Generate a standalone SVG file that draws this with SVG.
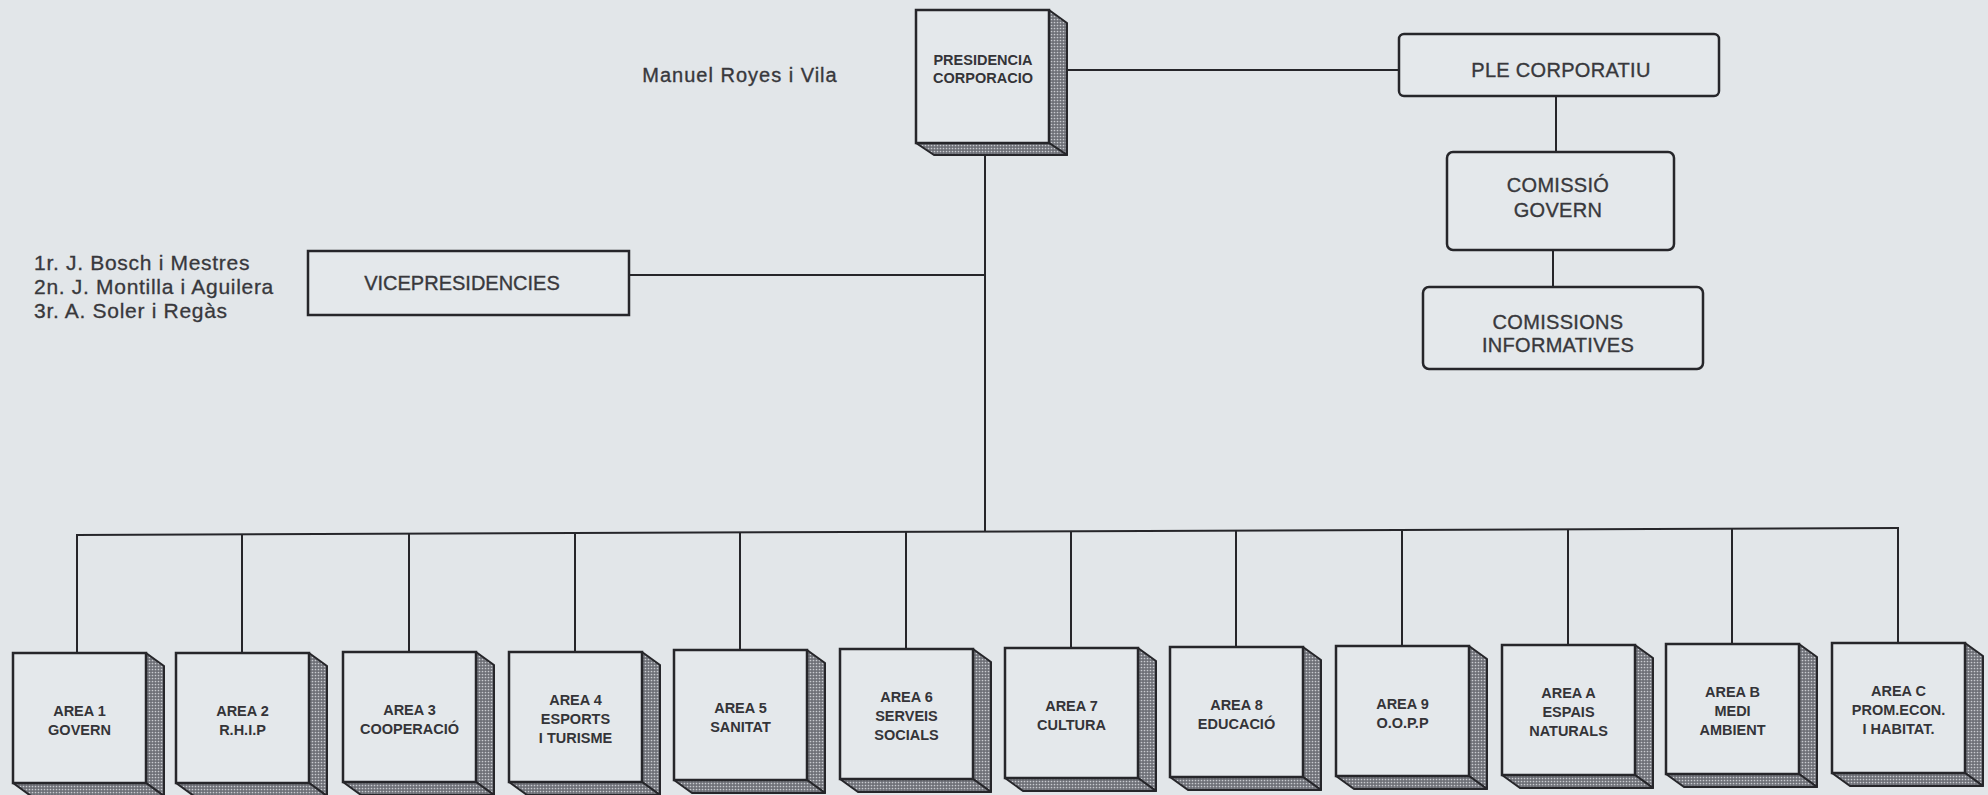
<svg xmlns="http://www.w3.org/2000/svg" xmlns:xlink="http://www.w3.org/1999/xlink" width="1988" height="795" viewBox="0 0 1988 795">
<style>
  .bg{fill:#e2e6e9}
  .ln{stroke:#26262a;stroke-width:2;fill:none}
  .box{fill:#e4e8eb;stroke:#26262a;stroke-width:2.5}
  .face{fill:url(#dots);stroke:#26262a;stroke-width:2;stroke-linejoin:round}
  .front{fill:#e4e8eb;stroke:#26262a;stroke-width:2.5}
  .t{font-family:"Liberation Sans",Arial,Helvetica,sans-serif;fill:#38383c;stroke:#38383c;stroke-width:0.35;font-size:20px;letter-spacing:0.3px;text-anchor:middle}
  .n{font-family:"Liberation Sans",Arial,Helvetica,sans-serif;fill:#38383c;stroke:#38383c;stroke-width:0.3;font-size:21px;letter-spacing:0.7px}
  .b{font-family:"Liberation Sans",Arial,Helvetica,sans-serif;fill:#343438;font-size:14.5px;font-weight:bold;text-anchor:middle}
</style>
<defs>
  <pattern id="dots" width="3" height="3" patternUnits="userSpaceOnUse">
    <rect width="3" height="3" fill="#6e7077"/>
    <circle cx="1.5" cy="1.5" r="0.85" fill="#c9cbd0"/>
  </pattern>
  <g id="cube">
    <polygon class="face" points="133,0 151,13 151,143 133,130"/>
    <polygon class="face" points="0,130 133,130 151,143 18,143"/>
    <rect class="front" x="0" y="0" width="133" height="130"/>
  </g>
</defs>
<rect class="bg" x="0" y="0" width="1988" height="795"/>

<g id="connectors">
  <line class="ln" x1="1067" y1="70" x2="1399" y2="70"/>
  <line class="ln" x1="985" y1="155" x2="985" y2="532"/>
  <line class="ln" x1="629" y1="275" x2="985" y2="275"/>
  <line class="ln" x1="1556" y1="96" x2="1556" y2="152"/>
  <line class="ln" x1="1553" y1="250" x2="1553" y2="287"/>
  <line class="ln" x1="76" y1="535" x2="1899" y2="528"/>
  <line class="ln" x1="77" y1="535" x2="77" y2="653"/>
  <line class="ln" x1="242" y1="534.4" x2="242" y2="653"/>
  <line class="ln" x1="409" y1="533.7" x2="409" y2="652"/>
  <line class="ln" x1="575" y1="533.1" x2="575" y2="652"/>
  <line class="ln" x1="740" y1="532.5" x2="740" y2="650"/>
  <line class="ln" x1="906" y1="531.8" x2="906" y2="649"/>
  <line class="ln" x1="1071" y1="531.2" x2="1071" y2="648"/>
  <line class="ln" x1="1236" y1="530.5" x2="1236" y2="647"/>
  <line class="ln" x1="1402" y1="529.9" x2="1402" y2="646"/>
  <line class="ln" x1="1568" y1="529.3" x2="1568" y2="645"/>
  <line class="ln" x1="1732" y1="528.6" x2="1732" y2="644"/>
  <line class="ln" x1="1898" y1="528" x2="1898" y2="643"/>
</g>

<g id="presidencia">
  <polygon class="face" points="1049,10 1067,23 1067,155 1049,143"/>
  <polygon class="face" points="916,143 1049,143 1067,155 934,155"/>
  <rect class="front" x="916" y="10" width="133" height="133"/>
  <text class="b" x="983" y="65">PRESIDENCIA</text>
  <text class="b" x="983" y="83">CORPORACIO</text>
</g>

<g id="manuel">
  <text class="t" x="740" y="82" style="letter-spacing:1px">Manuel Royes i Vila</text>
</g>

<g id="ple">
  <rect class="box" x="1399" y="34" width="320" height="62" rx="5"/>
  <text class="t" x="1561" y="77">PLE CORPORATIU</text>
</g>

<g id="comissio">
  <rect class="box" x="1447" y="152" width="227" height="98" rx="6"/>
  <text class="t" x="1558" y="192">COMISSIÓ</text>
  <text class="t" x="1558" y="217">GOVERN</text>
</g>

<g id="comissions">
  <rect class="box" x="1423" y="287" width="280" height="82" rx="6"/>
  <text class="t" x="1558" y="329">COMISSIONS</text>
  <text class="t" x="1558" y="352">INFORMATIVES</text>
</g>

<g id="vicepresidencies">
  <rect class="box" x="308" y="251" width="321" height="64"/>
  <text class="t" x="462" y="290" style="letter-spacing:0">VICEPRESIDENCIES</text>
  <text class="n" x="34" y="270">1r. J. Bosch i Mestres</text>
  <text class="n" x="34" y="294">2n. J. Montilla i Aguilera</text>
  <text class="n" x="34" y="318">3r. A. Soler i Regàs</text>
</g>

<g id="area1" transform="translate(13,653)">
  <use xlink:href="#cube"/>
  <text class="b" x="66.5" y="63">AREA 1</text>
  <text class="b" x="66.5" y="82">GOVERN</text>
</g>
<g id="area2" transform="translate(176,653)">
  <use xlink:href="#cube"/>
  <text class="b" x="66.5" y="63">AREA 2</text>
  <text class="b" x="66.5" y="82">R.H.I.P</text>
</g>
<g id="area3" transform="translate(343,652)">
  <use xlink:href="#cube"/>
  <text class="b" x="66.5" y="63">AREA 3</text>
  <text class="b" x="66.5" y="82">COOPERACIÓ</text>
</g>
<g id="area4" transform="translate(509,652)">
  <use xlink:href="#cube"/>
  <text class="b" x="66.5" y="53">AREA 4</text>
  <text class="b" x="66.5" y="72">ESPORTS</text>
  <text class="b" x="66.5" y="91">I TURISME</text>
</g>
<g id="area5" transform="translate(674,650)">
  <use xlink:href="#cube"/>
  <text class="b" x="66.5" y="63">AREA 5</text>
  <text class="b" x="66.5" y="82">SANITAT</text>
</g>
<g id="area6" transform="translate(840,649)">
  <use xlink:href="#cube"/>
  <text class="b" x="66.5" y="53">AREA 6</text>
  <text class="b" x="66.5" y="72">SERVEIS</text>
  <text class="b" x="66.5" y="91">SOCIALS</text>
</g>
<g id="area7" transform="translate(1005,648)">
  <use xlink:href="#cube"/>
  <text class="b" x="66.5" y="63">AREA 7</text>
  <text class="b" x="66.5" y="82">CULTURA</text>
</g>
<g id="area8" transform="translate(1170,647)">
  <use xlink:href="#cube"/>
  <text class="b" x="66.5" y="63">AREA 8</text>
  <text class="b" x="66.5" y="82">EDUCACIÓ</text>
</g>
<g id="area9" transform="translate(1336,646)">
  <use xlink:href="#cube"/>
  <text class="b" x="66.5" y="63">AREA 9</text>
  <text class="b" x="66.5" y="82">O.O.P.P</text>
</g>
<g id="areaA" transform="translate(1502,645)">
  <use xlink:href="#cube"/>
  <text class="b" x="66.5" y="53">AREA A</text>
  <text class="b" x="66.5" y="72">ESPAIS</text>
  <text class="b" x="66.5" y="91">NATURALS</text>
</g>
<g id="areaB" transform="translate(1666,644)">
  <use xlink:href="#cube"/>
  <text class="b" x="66.5" y="53">AREA B</text>
  <text class="b" x="66.5" y="72">MEDI</text>
  <text class="b" x="66.5" y="91">AMBIENT</text>
</g>
<g id="areaC" transform="translate(1832,643)">
  <use xlink:href="#cube"/>
  <text class="b" x="66.5" y="53">AREA C</text>
  <text class="b" x="66.5" y="72">PROM.ECON.</text>
  <text class="b" x="66.5" y="91">I HABITAT.</text>
</g>
</svg>
